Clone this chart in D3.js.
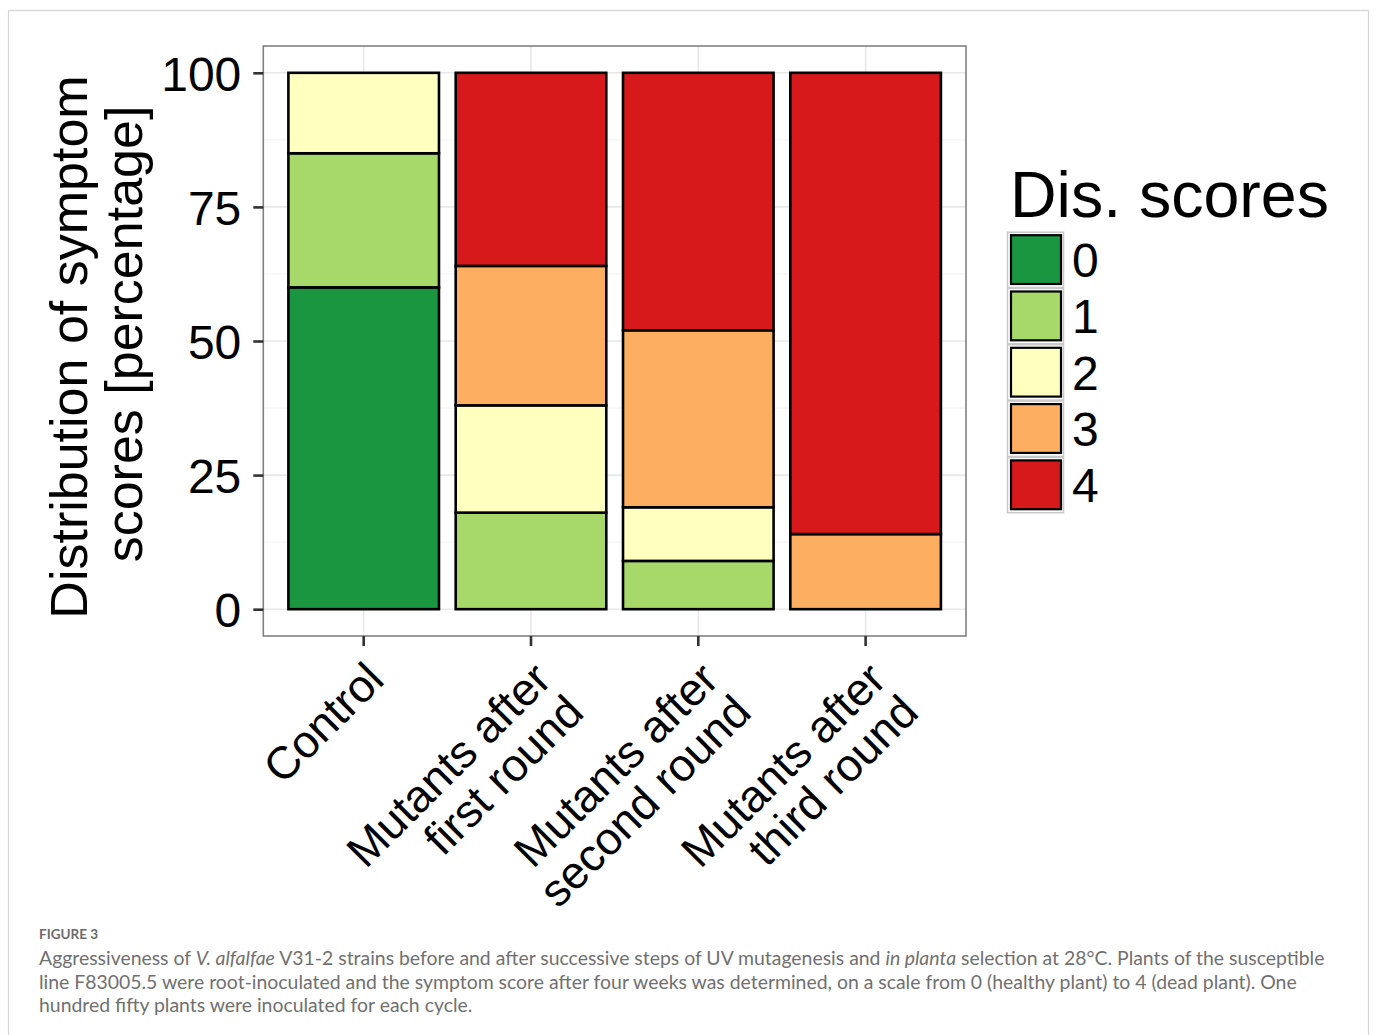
<!DOCTYPE html>
<html><head><meta charset="utf-8">
<script src="https://cdn.jsdelivr.net/npm/d3@7"></script>
<style>body{margin:0;background:#fff;} svg{display:block;}</style>
</head><body><svg id="c" width="1375" height="1035"></svg>
<script>
const categories = ["Control", "Mutants after\nfirst round", "Mutants after\nsecond round", "Mutants after\nthird round"];
const scoreLevels = ["0", "1", "2", "3", "4"];
const score0 = [60, 0, 0, 0];
const score1 = [25, 18, 9, 0];
const score2 = [15, 20, 10, 0];
const score3 = [0, 26, 33, 14];
const score4 = [0, 36, 48, 86];
const scoreColors = ["#1a9641", "#a6d96a", "#ffffbf", "#fdae61", "#d7191c"];
const yTicks = [0, 25, 50, 75, 100];
const yMinor = [12.5, 37.5, 62.5, 87.5];
const yTitleLines = ["Distribution of symptom", "scores [percentage]"];
const legendTitle = "Dis. scores";
const figLabel = "FIGURE 3";
const captionLines = [
  [["Aggressiveness of ", false], ["V. alfalfae", true], [" V31-2 strains before and after successive steps of UV mutagenesis and ", false], ["in planta", true], [" selection at 28°C. Plants of the susceptible", false]],
  [["line F83005.5 were root-inoculated and the symptom score after four weeks was determined, on a scale from 0 (healthy plant) to 4 (dead plant). One", false]],
  [["hundred fifty plants were inoculated for each cycle.", false]]
];

const svg = d3.select("#c");
const font = "'Liberation Sans', Arial, Helvetica, sans-serif";

// outer frame
svg.append("rect").attr("x", 8.5).attr("y", 10.5).attr("width", 1360).attr("height", 1040)
  .attr("fill", "none").attr("stroke", "#d4d4d4").attr("stroke-width", 1.2);

const L = 263.3, R = 966, T = 46, B = 636;
const x = d3.scaleBand().domain(categories).range([L, R]).paddingInner(0.1).paddingOuter(0.15);
const y = d3.scaleLinear().domain([-5, 105]).range([B, T]);
const cx = c => x(c) + x.bandwidth() / 2;

const g = svg.append("g");
// grid
g.selectAll(".minor").data(yMinor).join("line")
  .attr("x1", L).attr("x2", R).attr("y1", d => y(d)).attr("y2", d => y(d))
  .attr("stroke", "#f2f2f2").attr("stroke-width", 1);
g.selectAll(".majorh").data(yTicks).join("line")
  .attr("x1", L).attr("x2", R).attr("y1", d => y(d)).attr("y2", d => y(d))
  .attr("stroke", "#e8e8e8").attr("stroke-width", 1.6);
g.selectAll(".majorv").data(categories).join("line")
  .attr("y1", T).attr("y2", B).attr("x1", d => cx(d)).attr("x2", d => cx(d))
  .attr("stroke", "#e8e8e8").attr("stroke-width", 1.6);

// bars
const table = categories.map((c, i) => ({cat: c, "0": score0[i], "1": score1[i], "2": score2[i], "3": score3[i], "4": score4[i]}));
const stacked = d3.stack().keys(scoreLevels)(table);
stacked.forEach((layer, li) => {
  g.append("g").selectAll("rect").data(layer.filter(d => d[1] - d[0] > 0)).join("rect")
    .attr("x", d => x(d.data.cat)).attr("width", x.bandwidth())
    .attr("y", d => y(d[1])).attr("height", d => y(d[0]) - y(d[1]))
    .attr("fill", scoreColors[li]).attr("stroke", "#000").attr("stroke-width", 2.6);
});

// panel border
svg.append("rect").attr("x", L).attr("y", T).attr("width", R - L).attr("height", B - T)
  .attr("fill", "none").attr("stroke", "#808080").attr("stroke-width", 1.6);

// y axis
const ya = svg.append("g").attr("transform", `translate(${L},0)`)
  .call(d3.axisLeft(y).tickValues(yTicks).tickSize(10).tickPadding(12));
ya.select(".domain").remove();
ya.selectAll(".tick line").attr("stroke", "#333").attr("stroke-width", 2.6);
ya.selectAll(".tick text").attr("font-family", font).attr("font-size", 48).attr("fill", "#000").attr("dy", "0.36em");

// x axis
const xa = svg.append("g").attr("transform", `translate(0,${B})`)
  .call(d3.axisBottom(x).tickSize(10).tickFormat(""));
xa.select(".domain").remove();
xa.selectAll(".tick line").attr("stroke", "#333").attr("stroke-width", 2.6);

// x labels
categories.forEach(c => {
  const lines = c.split("\n");
  const t = svg.append("text")
    .attr("transform", `translate(${cx(c) + 22.5},682) rotate(-45)`)
    .attr("text-anchor", "end").attr("font-family", font).attr("font-size", 45.5).attr("fill", "#000");
  lines.forEach((ln, i) => t.append("tspan").attr("x", 0).attr("y", i * 46).text(ln));
});

// y title
const yCenters = [347, 334];
const yBase = [87, 142];
yTitleLines.forEach((ln, i) => {
  svg.append("text").attr("transform", `translate(${yBase[i]},${yCenters[i]}) rotate(-90)`)
    .attr("text-anchor", "middle").attr("font-family", font).attr("font-size", 52).attr("fill", "#000").text(ln);
});

// legend
svg.append("text").attr("x", 1010).attr("y", 217).attr("font-family", font).attr("font-size", 64.5)
  .attr("fill", "#000").text(legendTitle);
const keyTop = 231.7, keyH = 56.3;
const lg = svg.append("g");
scoreLevels.forEach((s, i) => {
  const ky = keyTop + i * keyH;
  lg.append("rect").attr("x", 1007.5).attr("y", ky + 0.5).attr("width", 56).attr("height", keyH - 1)
    .attr("fill", "#fff").attr("stroke", "#c8c8c8").attr("stroke-width", 1.5);
  lg.append("rect").attr("x", 1011).attr("y", ky + 3.5).attr("width", 50).attr("height", keyH - 7.5)
    .attr("fill", scoreColors[i]).attr("stroke", "#000").attr("stroke-width", 2.2);
  lg.append("text").attr("x", 1072).attr("y", ky + keyH / 2).attr("dy", "0.36em")
    .attr("font-family", font).attr("font-size", 48).attr("fill", "#000").text(s);
});

// caption
const capFont = "Lato, 'Open Sans', 'Noto Sans', sans-serif";
svg.append("text").attr("x", 39).attr("y", 939).attr("font-family", capFont).attr("font-size", 13.5)
  .attr("font-weight", 700).attr("fill", "#6b6b6b").text(figLabel);
const capY = [965, 989, 1012];
const capTexts = captionLines.map((segs, i) => {
  const t = svg.append("text").attr("x", 39).attr("y", capY[i]).attr("font-family", capFont)
    .attr("font-size", 17).attr("fill", "#707070");
  segs.forEach(([s, it]) => t.append("tspan").attr("font-style", it ? "italic" : "normal").text(s));
  return t;
});
const w0 = capTexts[0].node().getComputedTextLength();
const fs = 17 * 1286 / w0;
capTexts.forEach(t => t.attr("font-size", fs));
</script></body></html>
